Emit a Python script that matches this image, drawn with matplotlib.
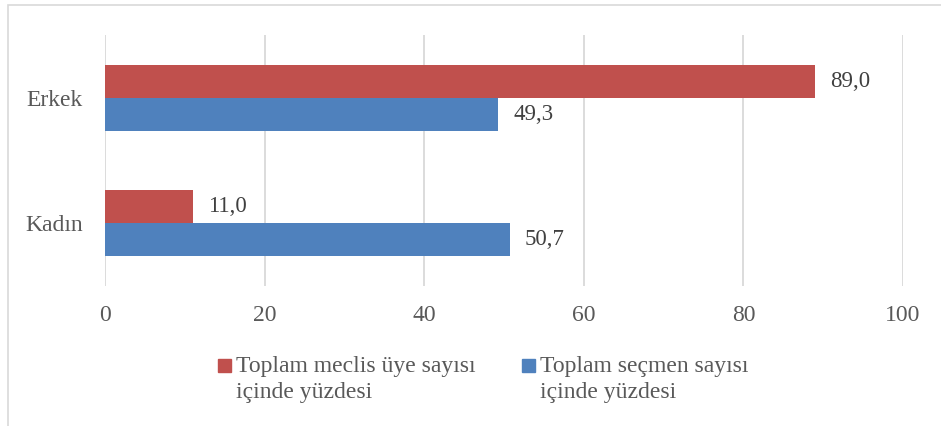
import matplotlib
matplotlib.use("Agg")
import matplotlib.pyplot as plt
from matplotlib.patches import Rectangle

categories = ["Kadın", "Erkek"]
meclis = [11.0, 89.0]
secmen = [50.7, 49.3]
series_labels = ["Toplam meclis üye sayısı\niçinde yüzdesi",
                 "Toplam seçmen sayısı\niçinde yüzdesi"]
xticks = [0, 20, 40, 60, 80, 100]

RED = "#C0504D"
BLUE = "#4F81BD"
GRID = "#D9D9D9"
TXT = "#595959"
LBL = "#404040"

plt.rcParams["font.family"] = ["Liberation Serif", "DejaVu Serif"]

W, H = 941, 426
fig = plt.figure(figsize=(W / 100, H / 100), dpi=100)
ax = fig.add_axes([105 / W, 1 - 286 / H, (903 - 105) / W, (286 - 35) / H])

h = 0.263
ypos = list(range(len(categories)))
b1 = ax.barh([y + h / 2 for y in ypos], meclis, height=h, color=RED, zorder=3)
b2 = ax.barh([y - h / 2 for y in ypos], secmen, height=h, color=BLUE, zorder=3)

fmt = lambda v: f"{v:.1f}".replace(".", ",")
ax.bar_label(b1, labels=[fmt(v) for v in meclis], padding=11, fontsize=16.5, color=LBL)
ax.bar_label(b2, labels=[fmt(v) for v in secmen], padding=11, fontsize=16.5, color=LBL)

ax.set_xlim(0, 100)
ax.set_ylim(-0.5, 1.5)
ax.set_xticks(xticks)
ax.set_xticklabels([str(t) for t in xticks])
ax.set_yticks(ypos)
ax.set_yticklabels(categories)
ax.tick_params(axis="both", length=0, labelsize=17, labelcolor=TXT)
ax.tick_params(axis="x", pad=14)
ax.tick_params(axis="y", pad=16)
ax.grid(axis="x", color=GRID, linewidth=1.3, zorder=0)
for s in ax.spines.values():
    s.set_visible(False)

# legend (manual, to match first-line alignment)
leg_items = [(RED, 218, series_labels[0]), (BLUE, 522, series_labels[1])]
for col, x0, lab in leg_items:
    fig.patches.append(Rectangle((x0 / W, 1 - 372 / H), 13 / W, 13 / H,
                                 transform=fig.transFigure, color=col))
    fig.text((x0 + 18) / W, 1 - 356 / H, lab, ha="left", va="top",
             fontsize=17, color=TXT, linespacing=1.3)

# chart border
fig.patches.append(Rectangle((8 / W, -0.1), 1.2, 1 - 5 / H + 0.1,
                             transform=fig.transFigure, fill=False,
                             edgecolor=GRID, linewidth=1.2))

fig.savefig("out.png", dpi=100)
